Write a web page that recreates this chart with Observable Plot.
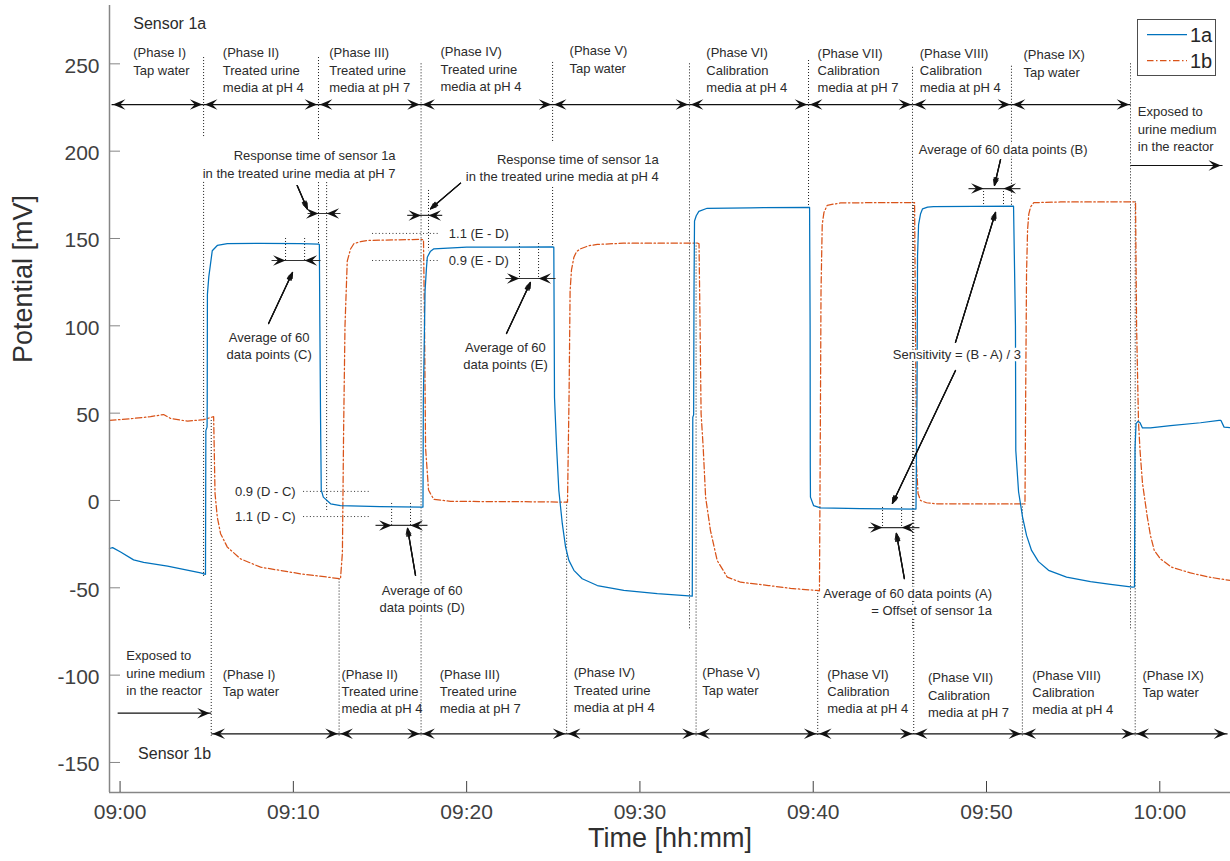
<!DOCTYPE html>
<html><head><meta charset="utf-8">
<script src="https://cdn.jsdelivr.net/npm/d3@7"></script>
<script src="https://cdn.jsdelivr.net/npm/@observablehq/plot@0.6"></script>
<style>
html,body{margin:0;padding:0;background:#fff;}
#wrap{position:relative;width:1230px;height:861px;overflow:hidden;font-family:"Liberation Sans",Arial,Helvetica,sans-serif;}
#wrap svg{display:block;}
#legend{position:absolute;left:1137px;top:19px;width:79px;height:57px;border:1px solid #4d4d4d;background:#fff;box-sizing:border-box;}
</style></head><body><div id="wrap"></div>
<script>
// ---------- data (minutes after 09:00, potential in mV) ----------
const seriesNames = ["1a", "1b"];
const seriesColors = ["#0072BD", "#D95319"];

const sensor1aTime = [-0.61,-0.43,0.03,0.78,1.36,2.74,4.65,4.93,4.95,5.02,5.03,5.04,5.12,5.32,5.61,6.19,8.11,10.42,11.45,11.50,11.53,11.57,11.61,11.73,12.15,12.72,15.00,17.44,17.48,17.50,17.60,17.68,17.73,17.90,18.11,20.00,24.94,25.03,25.07,25.19,25.32,25.52,25.71,25.90,26.19,26.67,27.54,29.07,31.00,33.02,33.05,33.10,33.12,33.15,33.25,33.40,33.88,36.38,39.79,39.82,39.83,39.84,40.02,40.42,42.73,45.93,45.99,46.02,46.08,46.19,46.31,46.60,46.94,51.56,51.67,51.69,51.85,52.08,52.31,52.60,53.00,53.58,54.62,56.00,57.16,58.43,58.54,58.57,58.63,58.74,58.86,59.00,59.46,60.62,62.35,63.42,63.53,63.71,64.08];
const sensor1aPotential = [-27.5,-27,-29.5,-34,-35.5,-37.6,-41.5,-42.3,40,42,57,118,128,143,146,147,147.2,147,146.8,146.5,100,46,6,1.9,-1.9,-2.9,-3.5,-3.8,-3.8,57,120,133,139.3,142.5,144.1,145,145.2,145,59,30.5,5.7,-13.3,-26.7,-34.3,-40,-44.8,-48.7,-51.5,-53.4,-54.8,47.7,49,120,160,163,165.5,167.3,167.6,167.8,100,20,1.9,-2.9,-4.2,-4.7,-4.9,60,140,158,164,167,168,168.3,168.5,100,28.6,5,-9.5,-20,-28.6,-35,-40,-43.9,-46.5,-48,-49.6,-49.5,30,44,45.3,44.5,41.5,41.6,42.8,44.5,45.8,45.8,42,41.7];

const sensor1bTime = [-0.61,0.61,1.76,2.51,2.91,3.90,4.82,5.40,5.48,5.61,5.80,6.19,6.95,8.11,10.42,12.72,12.83,12.90,12.98,13.11,13.30,13.49,13.88,14.27,17.34,17.51,17.57,17.63,17.80,17.92,18.11,19.07,24.84,25.82,25.91,25.97,26.05,26.19,26.34,26.57,27.03,27.54,29.05,33.32,33.41,33.47,33.53,33.65,33.79,34.07,34.46,35.04,35.81,37.42,38.69,40.19,40.36,40.41,40.45,40.52,40.62,40.81,41.58,45.71,45.85,45.90,45.96,46.05,46.19,46.54,47.06,50.81,52.22,52.26,52.31,52.37,52.44,52.54,52.73,54.27,58.48,58.60,58.66,58.77,58.86,59.00,59.28,59.46,59.68,60.04,60.68,61.77,62.93,64.08];
const sensor1bPotential = [45.8,46.8,48,49.2,47,45.4,46.3,48,4,-9.5,-19,-26.7,-33.4,-38.2,-42,-44.8,-30,40,100,137,144,147,148.2,148.9,149.5,149.3,100,30,6,3.8,0.6,-0.5,-0.8,-1,60,120,132,139.3,142.5,144.1,145.8,146.6,147.3,147.4,147,100,49.6,30.5,1.9,-17.2,-34.4,-43.9,-46.8,-48.7,-50.3,-51.5,-51.7,40,120,158,165,169,170.4,170.6,170.5,100,20,4,0,-1.3,-1.9,-2,-2,60,130,155,164,168,170.5,170.9,171,171,100,45,28.6,10,-9.5,-20,-28.6,-33.5,-38.2,-41.5,-44,-45.8];

// ---------- axes ----------
const xDomain = [-0.61, 64.08];
const yDomain = [-167.2, 283.4];
const xTicks = [0, 10, 20, 30, 40, 50, 60];
const xTickLabels = ["09:00", "09:10", "09:20", "09:30", "09:40", "09:50", "10:00"];
const yTicks = [-150, -100, -50, 0, 50, 100, 150, 200, 250];
const yTickLabels = ["-150", "-100", "-50", "0", "50", "100", "150", "200", "250"];
const xTitle = "Time [hh:mm]";
const yTitle = "Potential [mV]";

// ---------- phases ----------
const phaseNames = ["(Phase I)\nTap water","(Phase II)\nTreated urine\nmedia at pH 4","(Phase III)\nTreated urine\nmedia at pH 7","(Phase IV)\nTreated urine\nmedia at pH 4","(Phase V)\nTap water","(Phase VI)\nCalibration\nmedia at pH 4","(Phase VII)\nCalibration\nmedia at pH 7","(Phase VIII)\nCalibration\nmedia at pH 4","(Phase IX)\nTap water"];
const phaseArrowEnds1a = [-0.49, 4.82, 11.45, 17.37, 24.96, 32.86, 39.73, 45.73, 51.44, 58.31];
const phaseArrowEnds1b = [5.26, 12.64, 17.37, 25.77, 33.24, 40.26, 45.80, 52.07, 58.58, 63.91];
const phaseArrowLevel1a = 226.7;
const phaseArrowLevel1b = -133.6;
const phaseLabelTime1a = [0.76, 5.93, 12.07, 18.49, 25.94, 33.83, 40.25, 46.15, 52.13];
const phaseLabelTop1a = [259.1, 259.1, 259.1, 259.6, 260.2, 259.1, 258.8, 258.8, 257.9];
const phaseLabelTime1b = [5.92, 12.78, 18.45, 26.18, 33.60, 40.81, 46.62, 52.64, 59.00];
const phaseLabelTop1b = [-96.8, -96.8, -96.8, -95.9, -95.9, -96.8, -98.8, -97.4, -97.4];

// dotted vertical guides
const dottedTime = [4.82,4.82,11.45,11.45,17.37,24.96,24.96,32.86,39.73,45.73,51.44,58.31, 11.92,17.80, 5.26,12.64,25.77,33.24,40.26,45.80,52.07,58.58, 9.55,10.65,23.05,24.15,15.67,16.76,49.83,50.98,44.00,45.10];
const dottedTop = [253.6,182.1,253.6,182,250,250.8,179.2,250,251.9,248,248.6,250, 182,177.5, 45.8,-45,-1,147.4,-51.5,170.6,-2,171, 150,150,147.1,147.1,-1.7,-1.7,178.6,178.6,-4,-4];
const dottedBottom = [207.2,-44.1,206,146,-135,204.4,144.8,-74.4,167.5,-74.4,168.5,-74.4, -5.7,143, -135,-135,-135,-135,-135,-135,-135,-135, 137.4,137.4,127.1,127.1,-14.3,-14.3,167.7,167.7,-15.5,-15.5];

// dotted horizontal thresholds
const thresholdLabels = ["1.1 (E - D)", "0.9 (E - D)", "0.9 (D - C)", "1.1 (D - C)"];
const thresholdLevel = [152.9, 137.4, 5.2, -9.2];
const thresholdStart = [14.57, 14.57, 10.59, 10.59];
const thresholdEnd = [18.49, 18.49, 14.45, 14.45];

// inward double arrows (averaging windows C,E,D,B,A and response times pH7, pH4)
const inwardLevel = [137.4, 127.1, -14.3, 178.6, -15.5, 164.3, 163.2];
const inwardOuterStart = [8.74, 22.24, 14.74, 48.96, 43.19, 10.82, 16.57];
const inwardInnerStart = [9.55, 23.05, 15.67, 49.83, 44.00, 11.45, 17.37];
const inwardInnerEnd = [10.65, 24.15, 16.76, 50.98, 45.10, 11.92, 17.80];
const inwardOuterEnd = [11.57, 25.13, 17.74, 51.96, 46.13, 12.72, 18.59];

// leader arrows
const leaderFromTime = [8.57, 22.30, 17.05, 50.81, 45.26, 10.22, 19.65, 48.21, 48.21];
const leaderFromPotential = [101.3, 95.6, -42.9, 195.2, -44.7, 180.3, 181.7, 90.5, 74.4];
const leaderToTime = [9.95, 23.68, 16.59, 50.46, 44.80, 10.80, 17.92, 50.52, 44.57];
const leaderToPotential = [130.5, 124.8, -16.0, 180.4, -18.9, 167.0, 167.0, 164.9, -1.7];

// "exposed to urine medium" arrows
const exposedFromTime = [-0.14, 58.31];
const exposedToTime = [5.26, 63.62];
const exposedLevel = [-121.8, 191.8];

// annotation texts
const noteText = [
  "Exposed to\nurine medium\nin the reactor",
  "Exposed to\nurine medium\nin the reactor",
  "Response time of sensor 1a\nin the treated urine media at pH 7",
  "Response time of sensor 1a\nin the treated urine media at pH 4",
  "Average of 60\ndata points (C)",
  "Average of 60\ndata points (E)",
  "Average of 60\ndata points (D)",
  "Average of 60 data points (B)",
  "Average of 60 data points (A)\n= Offset of sensor 1a",
  "Sensitivity = (B - A) / 3"
];
const noteTime = [0.36, 58.73, 15.90, 31.09, 8.60, 22.24, 17.43, 46.09, 50.32, 44.59];
const noteTop = [-86.2, 225.3, 200.1, 198.1, 96.1, 90.3, -48.9, 203.5, -50.5, 86.2];
const noteAnchor = ["start","start","end","end","middle","middle","middle","start","end","start"];
const thresholdLabelTime = [18.97, 18.97, 10.13, 10.13];
const thresholdLabelTop = [155.4, 140.0, 7.7, -6.6];
const thresholdLabelAnchor = ["start", "start", "end", "end"];

const sensorTitles = ["Sensor 1a", "Sensor 1b"];
const sensorTitleTime = [0.76, 1.04];
const sensorTitleTop = [276.5, -141.4];

// ---------- build tables ----------
const s1a = sensor1aTime.map((t, i) => ({t, v: sensor1aPotential[i]}));
const s1b = sensor1bTime.map((t, i) => ({t, v: sensor1bPotential[i]}));
const spans = [];
for (let i = 0; i < phaseArrowEnds1a.length - 1; ++i) spans.push({a: phaseArrowEnds1a[i], b: phaseArrowEnds1a[i + 1], y: phaseArrowLevel1a});
for (let i = 0; i < phaseArrowEnds1b.length - 1; ++i) spans.push({a: phaseArrowEnds1b[i], b: phaseArrowEnds1b[i + 1], y: phaseArrowLevel1b});
const dotted = dottedTime.map((t, i) => ({t, y1: dottedTop[i], y2: dottedBottom[i]}));
const thresholds = thresholdLevel.map((y, i) => ({y, x1: thresholdStart[i], x2: thresholdEnd[i]}));
const inward = inwardLevel.map((y, i) => ({y, o1: inwardOuterStart[i], i1: inwardInnerStart[i], i2: inwardInnerEnd[i], o2: inwardOuterEnd[i]}));
const leaders = leaderFromTime.map((t, i) => ({x1: t, y1: leaderFromPotential[i], x2: leaderToTime[i], y2: leaderToPotential[i]}));
const exposed = exposedFromTime.map((t, i) => ({a: t, b: exposedToTime[i], y: exposedLevel[i]}));
const phaseLabels = [
  ...phaseNames.map((s, i) => ({s, x: phaseLabelTime1a[i], y: phaseLabelTop1a[i]})),
  ...phaseNames.map((s, i) => ({s, x: phaseLabelTime1b[i], y: phaseLabelTop1b[i]}))
];
const notes = [
  ...noteText.map((s, i) => ({s, x: noteTime[i], y: noteTop[i], a: noteAnchor[i]})),
  ...thresholdLabels.map((s, i) => ({s, x: thresholdLabelTime[i], y: thresholdLabelTop[i], a: thresholdLabelAnchor[i]}))
];
const sensorTitleData = sensorTitles.map((s, i) => ({s, x: sensorTitleTime[i], y: sensorTitleTop[i]}));

// arrowhead symbols (tip at origin)
const headRight = {draw(c) { c.moveTo(0, 0); c.lineTo(-12.5, -5.3); c.lineTo(-7.5, 0); c.lineTo(-12.5, 5.3); c.closePath(); }};
const headLeft = {draw(c) { c.moveTo(0, 0); c.lineTo(12.5, -5.3); c.lineTo(7.5, 0); c.lineTo(12.5, 5.3); c.closePath(); }};

const FONT = "'Liberation Sans', Arial, Helvetica, sans-serif";
const TXT = "#2b2b2b";
const frameW = 1230 - 109 - 0, frameH = 861 - 5 - 69;

const noteMarks = ["start", "middle", "end"].map(anchor => Plot.text(notes, {
  filter: d => d.a === anchor, x: "x", y: "y", text: "s", textAnchor: anchor,
  lineAnchor: "top", lineHeight: 1.33, dy: -3, fontSize: 13, fill: TXT,
  stroke: "white", strokeWidth: 5, strokeLinejoin: "round", paintOrder: "stroke"
}));

const chart = Plot.plot({
  width: 1230, height: 861,
  marginLeft: 109, marginRight: 0, marginTop: 5, marginBottom: 69,
  style: {fontFamily: FONT, background: "#fff", overflow: "visible"},
  x: {domain: xDomain},
  y: {domain: yDomain},
  marks: [
    // guides
    Plot.ruleX(dotted, {x: "t", y1: "y1", y2: "y2", stroke: "#1a1a1a", strokeWidth: 1, strokeDasharray: "1,2"}),
    Plot.ruleY(thresholds, {y: "y", x1: "x1", x2: "x2", stroke: "#333", strokeWidth: 1, strokeDasharray: "1,2.4"}),
    // sensor traces
    Plot.line(s1b, {x: "t", y: "v", stroke: seriesColors[1], strokeWidth: 1.25, strokeDasharray: "6.5,2.5,1.5,2.5"}),
    Plot.line(s1a, {x: "t", y: "v", stroke: seriesColors[0], strokeWidth: 1.25}),
    // phase double arrows (outward heads)
    Plot.link(spans, {x1: "a", x2: "b", y1: "y", y2: "y", stroke: "#111", strokeWidth: 1.2}),
    Plot.dot(spans, {x: "a", y: "y", symbol: headLeft, fill: "#111", stroke: "none", dx: 1.3}),
    Plot.dot(spans, {x: "b", y: "y", symbol: headRight, fill: "#111", stroke: "none", dx: -1.3}),
    // exposed arrows
    Plot.link(exposed, {x1: "a", x2: "b", y1: "y", y2: "y", stroke: "#111", strokeWidth: 1.2}),
    Plot.dot(exposed, {x: "b", y: "y", symbol: headRight, fill: "#111", stroke: "none", dx: -1.5}),
    // inward double arrows
    Plot.link(inward, {x1: "o1", x2: "o2", y1: "y", y2: "y", stroke: "#333", strokeWidth: 1.2}),
    Plot.dot(inward, {x: "i1", y: "y", symbol: headRight, fill: "#111", stroke: "none"}),
    Plot.dot(inward, {x: "i2", y: "y", symbol: headLeft, fill: "#111", stroke: "none"}),
    // leader arrows
    Plot.arrow(leaders, {x1: "x1", y1: "y1", x2: "x2", y2: "y2", stroke: "#222", strokeWidth: 1, headLength: 9, headAngle: 46}),
    Plot.arrow(leaders, {x1: "x1", y1: "y1", x2: "x2", y2: "y2", stroke: "#111", strokeWidth: 1.3, headLength: 9, headAngle: 30}),
    Plot.arrow(leaders, {x1: "x1", y1: "y1", x2: "x2", y2: "y2", stroke: "#111", strokeWidth: 1.3, headLength: 9, headAngle: 14}),
    // texts
    Plot.text(phaseLabels, {x: "x", y: "y", text: "s", textAnchor: "start", lineAnchor: "top", lineHeight: 1.33, dy: -3, fontSize: 13, fill: TXT}),
    ...noteMarks,
    Plot.text(sensorTitleData, {x: "x", y: "y", text: "s", textAnchor: "start", lineAnchor: "top", fontSize: 16, fill: TXT}),
    // axes
    Plot.ruleX([xDomain[0]], {stroke: "#868686", strokeWidth: 1.5}),
    Plot.ruleY([yDomain[0]], {stroke: "#868686", strokeWidth: 1.5}),
    Plot.tickY(yTicks, {stroke: "#868686", strokeWidth: 1, insetRight: frameW - 11}),
    Plot.tickX(xTicks, {stroke: "#404040", strokeWidth: 1, insetTop: frameH - 11}),
    Plot.axisY(yTicks, {tickSize: 0, tickPadding: 10, fontSize: 21, fill: "#404040", label: null, dy: 2, tickFormat: d => yTickLabels[yTicks.indexOf(d)]}),
    Plot.axisX(xTicks, {tickSize: 0, tickPadding: 12, fontSize: 21, fill: "#404040", label: null, tickFormat: d => xTickLabels[xTicks.indexOf(d)]}),
    Plot.text([yTitle], {frameAnchor: "left", dx: -86, dy: -36, rotate: -90, fontSize: 27, fill: "#303030"}),
    Plot.text([xTitle], {frameAnchor: "bottom", dy: 54.5, fontSize: 27, fill: "#303030"})
  ]
});
const wrap = document.getElementById("wrap");
wrap.appendChild(chart);

// legend
const legend = document.createElement("div");
legend.id = "legend";
const ns = "http://www.w3.org/2000/svg";
const lsvg = document.createElementNS(ns, "svg");
lsvg.setAttribute("width", 77); lsvg.setAttribute("height", 55);
seriesNames.forEach((name, i) => {
  const cy = 14.5 + i * 26;
  const ln = document.createElementNS(ns, "line");
  ln.setAttribute("x1", 9); ln.setAttribute("x2", 49); ln.setAttribute("y1", cy); ln.setAttribute("y2", cy);
  ln.setAttribute("stroke", seriesColors[i]); ln.setAttribute("stroke-width", 1.25);
  if (i === 1) ln.setAttribute("stroke-dasharray", "6.5,2.5,1.5,2.5");
  lsvg.appendChild(ln);
  const tx = document.createElementNS(ns, "text");
  tx.setAttribute("x", 52); tx.setAttribute("y", cy + 7.3);
  tx.setAttribute("font-size", 20); tx.setAttribute("fill", "#262626");
  tx.setAttribute("font-family", FONT);
  tx.textContent = name;
  lsvg.appendChild(tx);
});
legend.appendChild(lsvg);
wrap.appendChild(legend);
</script></body></html>
